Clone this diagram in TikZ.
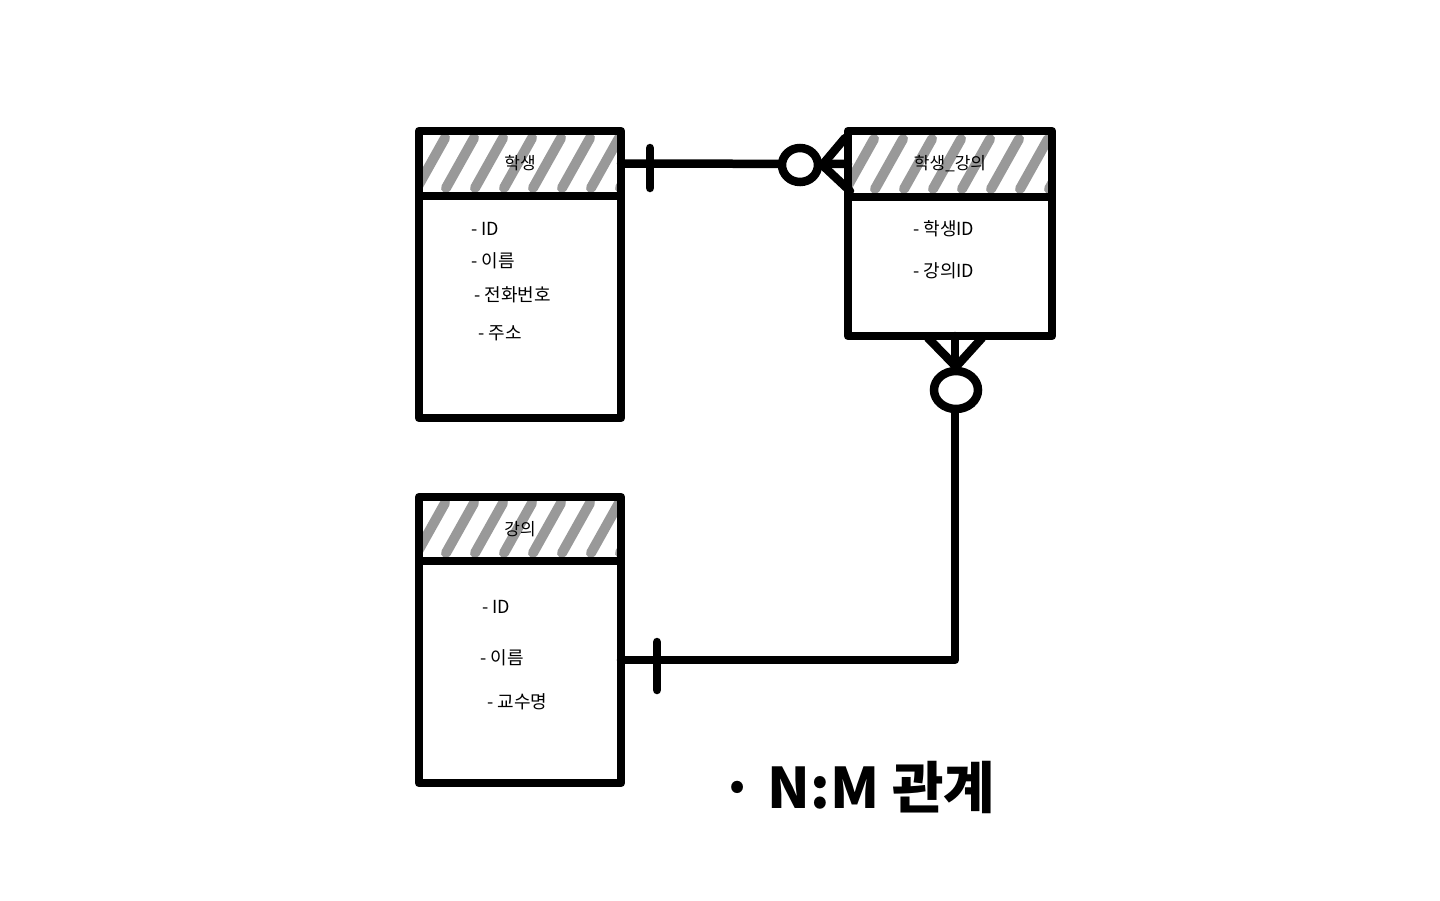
\documentclass[tikz,border=0pt]{standalone}
\usepackage{fontspec}
\newfontfamily\kr{Noto Sans CJK KR}
\usetikzlibrary{calc,shapes.geometric}
\tikzset{
  tbox/.style={draw=black, line width=8.5pt, rectangle, inner sep=0pt, outer sep=0pt, line join=round},
  hatch/.style={draw=black!40, line width=10pt, line cap=round},
  hdr/.style={tbox, font=\kr\fontsize{17}{19}\selectfont,
    path picture={\foreach \i in {-3,...,9}
      \draw[hatch] ($(path picture bounding box.south west)+(\i*29-2,-8)$) -- ++(28,-50);}},
  conn/.style={draw=black, line width=8.5pt, line cap=round, line join=round},
  item/.style={font=\kr\fontsize{18}{20}\selectfont, anchor=west, inner sep=0pt},
  ring/.style={draw=black, line width=8.5pt, ellipse, inner sep=0pt, fill=white},
}
\begin{document}
\begin{tikzpicture}[x=1pt,y=-1pt]
\useasboundingbox[fill=white] (0,0) rectangle (1440,900);

% 학생
\node[hdr, minimum width=202pt, minimum height=65pt] (stuhead) at (520,163.5) {학생};
\node[tbox, minimum width=202pt, minimum height=222pt] (stubody) at (520,307) {};
\node[item] (s1) at (471,229) {- ID};
\node[item] (s2) at (471,261) {- 이름};
\node[item] (s3) at (474,295) {- 전화번호};
\node[item] (s4) at (478,333) {- 주소};

% 학생_강의
\node[hdr, minimum width=204pt, minimum height=66pt] (shhead) at (950,164) {학생\_강의};
\node[tbox, minimum width=204pt, minimum height=139pt] (shbody) at (950,266.5) {};
\node[item] (h1) at (913,229) {- 학생ID};
\node[item] (h2) at (913,271) {- 강의ID};

% 강의
\node[hdr, minimum width=202pt, minimum height=64pt] (lechead) at (520,529) {강의};
\node[tbox, minimum width=202pt, minimum height=222pt] (lecbody) at (520,672) {};
\node[item] (l1) at (482,607) {- ID};
\node[item] (l2) at (480,658) {- 이름};
\node[item] (l3) at (487,702) {- 교수명};

% connector 학생 -- 학생_강의
\draw[conn] (stuhead.east) -- (shhead.west);
\coordinate (t1a) at (650,148);
\coordinate (t1b) at (650,188);
\draw[conn] (t1a) -- (t1b);
\node[ring, minimum width=36pt, minimum height=34pt] (o1) at (800,165) {};
\draw[conn] (o1.east) -- ($(shhead.west)+(-3,-26)$);
\draw[conn] (o1.east) -- ($(shhead.west)+(2,27)$);

% connector 학생_강의 -- 강의
\coordinate (d0) at ($(shbody.south)+(5,0)$);
\coordinate (e0) at ($(lecbody.east)+(0,-12)$);
\draw[conn] (d0) |- (e0);
\node[ring, minimum width=44pt, minimum height=38pt] (o2) at (956,390) {};
\draw[conn] (o2.north) -- ($(d0)+(-27,2)$);
\draw[conn] (o2.north) -- ($(d0)+(27,2)$);
\coordinate (t2a) at (657,642);
\coordinate (t2b) at (657,690);
\draw[conn] (t2a) -- (t2b);

% label
\node[font=\kr\bfseries\fontsize{56}{60}\selectfont, inner sep=0pt] (lbl) at (858,787) {· N:M 관계};
\end{tikzpicture}
\end{document}
